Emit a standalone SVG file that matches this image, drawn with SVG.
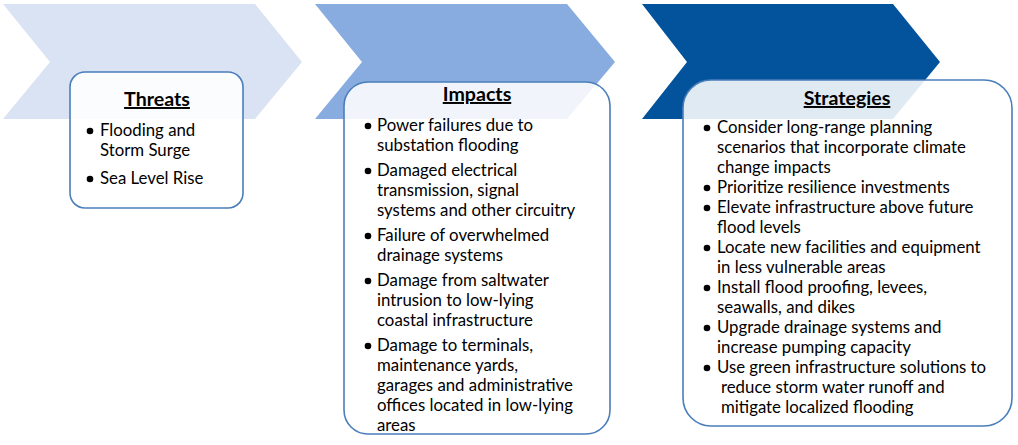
<svg xmlns="http://www.w3.org/2000/svg" width="1018" height="445" viewBox="0 0 1018 445">
<style>
.box{fill:#ffffff;fill-opacity:0.88;stroke:#4a7ebb;stroke-width:1.6}
text{font-family:Lato,"Open Sans","Liberation Sans",sans-serif;font-size:16.8px;fill:#000}
.t{font-weight:bold;font-size:19.6px;text-decoration:underline;text-anchor:middle}
</style>
<defs>
<circle id="b" r="3.3" fill="#000"/>
</defs>
<rect width="1018" height="445" fill="#ffffff"/>
<g id="chevrons">
<polygon id="chev1" points="3,4 255,4 302,62 255,119 3,119 50,62" fill="#dae3f3"/>
<polygon id="chev2" points="315,4 567,4 615,62 567,119 315,119 362,62" fill="#88acdf"/>
<polygon id="chev3" points="642,4 893,4 940,62 893,119 642,119 687,62" fill="#02539c"/>
</g>
<g id="connectors"></g>
<g id="threats">
<rect class="box" x="70" y="72" width="173" height="136" rx="15"/>
<text class="t" x="157" y="106">Threats</text>
<use href="#b" x="90" y="131"/>
<text x="100" y="136">Flooding and</text>
<text x="100" y="156">Storm Surge</text>
<use href="#b" x="90" y="179"/>
<text x="100" y="184">Sea Level Rise</text>
</g>
<g id="impacts">
<rect class="box" x="344" y="82" width="266" height="352" rx="24"/>
<text class="t" x="477" y="101">Impacts</text>
<use href="#b" x="368" y="126"/>
<text x="377" y="131">Power failures due to</text>
<text x="377" y="151">substation flooding</text>
<use href="#b" x="368" y="171"/>
<text x="377" y="176">Damaged electrical</text>
<text x="377" y="196">transmission, signal</text>
<text x="377" y="216">systems and other circuitry</text>
<use href="#b" x="368" y="236"/>
<text x="377" y="241">Failure of overwhelmed</text>
<text x="377" y="261">drainage systems</text>
<use href="#b" x="368" y="281"/>
<text x="377" y="286">Damage from saltwater</text>
<text x="377" y="306">intrusion to low-lying</text>
<text x="377" y="326">coastal infrastructure</text>
<use href="#b" x="368" y="346"/>
<text x="377" y="351">Damage to terminals,</text>
<text x="377" y="371">maintenance yards,</text>
<text x="377" y="391">garages and administrative</text>
<text x="377" y="411">offices located in low-lying</text>
<text x="377" y="431">areas</text>
</g>
<g id="strategies">
<rect class="box" x="683" y="80" width="329" height="346" rx="28"/>
<text class="t" x="847" y="105">Strategies</text>
<use href="#b" x="707" y="128"/>
<text x="717" y="133">Consider long-range planning</text>
<text x="717" y="153">scenarios that incorporate climate</text>
<text x="717" y="173">change impacts</text>
<use href="#b" x="707" y="188"/>
<text x="717" y="193">Prioritize resilience investments</text>
<use href="#b" x="707" y="208"/>
<text x="717" y="213">Elevate infrastructure above future</text>
<text x="717" y="233">flood levels</text>
<use href="#b" x="707" y="248"/>
<text x="717" y="253">Locate new facilities and equipment</text>
<text x="717" y="273">in less vulnerable areas</text>
<use href="#b" x="707" y="288"/>
<text x="717" y="293">Install flood proofing, levees,</text>
<text x="717" y="313">seawalls, and dikes</text>
<use href="#b" x="707" y="328"/>
<text x="717" y="333">Upgrade drainage systems and</text>
<text x="717" y="353">increase pumping capacity</text>
<use href="#b" x="707" y="368"/>
<text x="717" y="373">Use green infrastructure solutions to</text>
<text x="721" y="393">reduce storm water runoff and</text>
<text x="721" y="413">mitigate localized flooding</text>
</g>
</svg>
